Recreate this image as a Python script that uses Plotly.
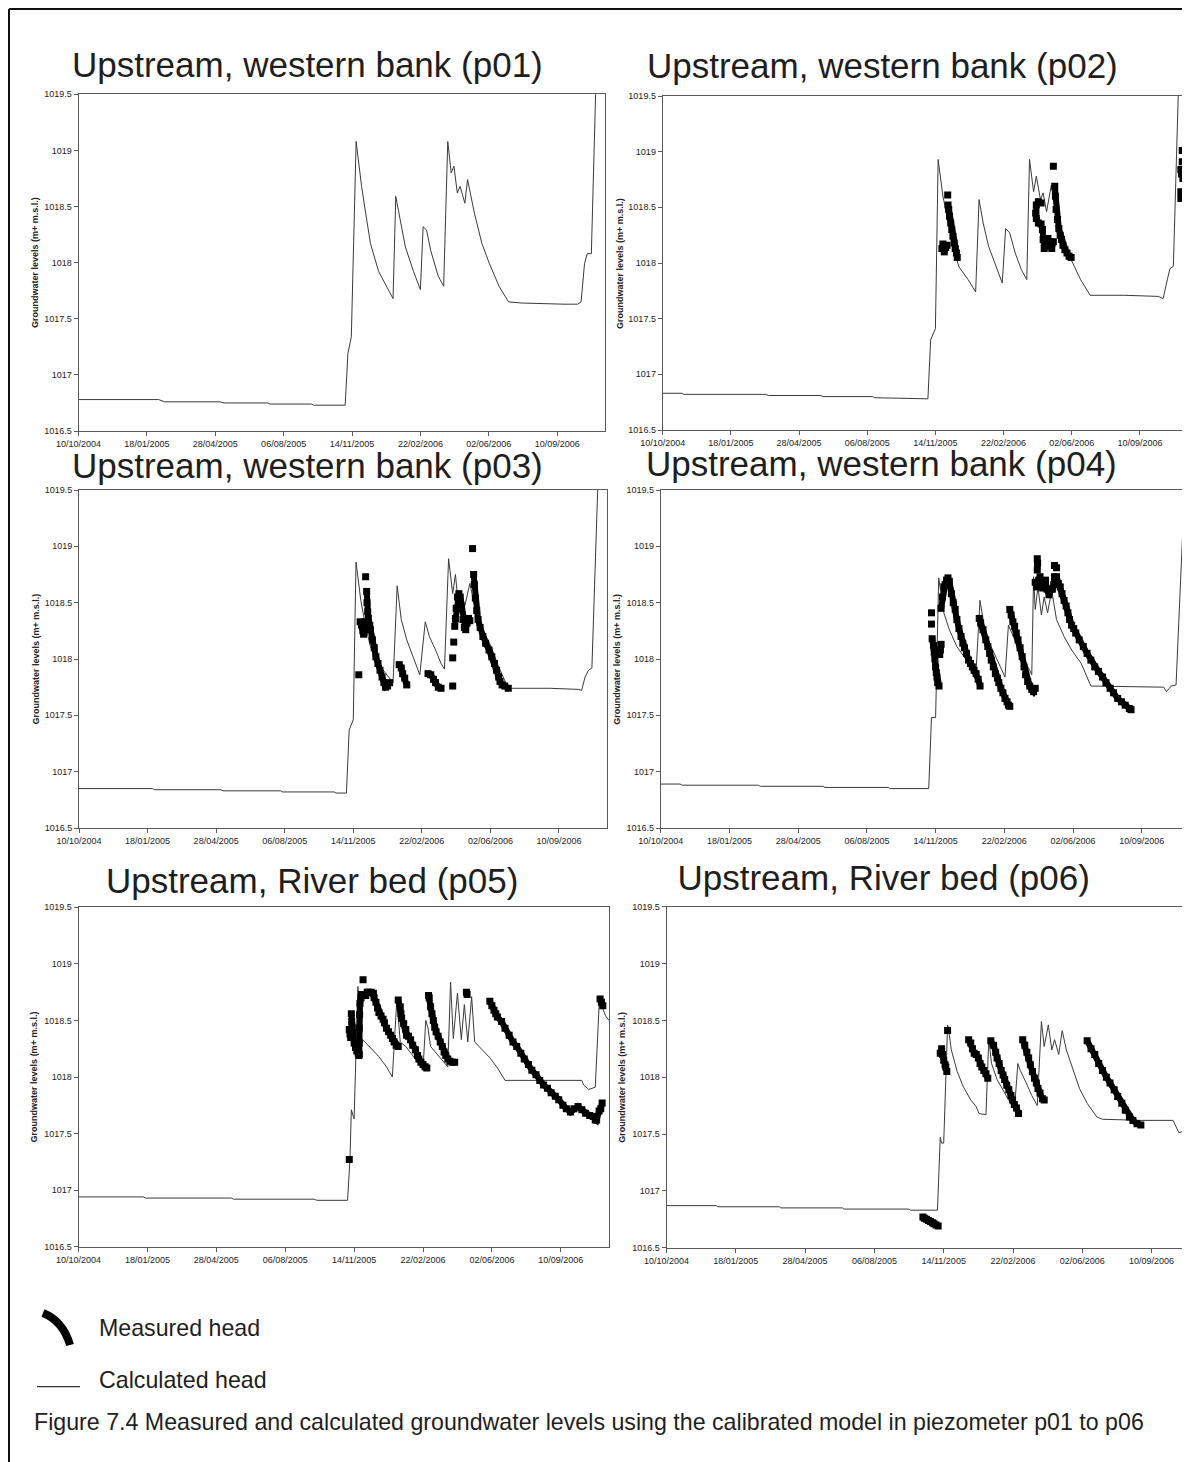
import datetime as dt
import plotly.graph_objects as go

W, H = 1190, 1462
OFF = 8  # the page places the figure 8 px from the top-left corner
BASE = dt.datetime(2004, 10, 10)
FONT = "Liberation Sans, Arial, sans-serif"

# ---------------- data ----------------
tick_dates = ["2004-10-10", "2005-01-18", "2005-04-28", "2005-08-06",
              "2005-11-14", "2006-02-22", "2006-06-02", "2006-09-10"]
tick_labels = ["10/10/2004", "18/01/2005", "28/04/2005", "06/08/2005",
               "14/11/2005", "22/02/2006", "02/06/2006", "10/09/2006"]
y_ticks = [1016.5, 1017, 1017.5, 1018, 1018.5, 1019, 1019.5]
y_tick_labels = ["1016.5", "1017", "1017.5", "1018", "1018.5", "1019", "1019.5"]

titles = ["Upstream, western bank (p01)", "Upstream, western bank (p02)",
          "Upstream, western bank (p03)", "Upstream, western bank (p04)",
          "Upstream, River bed (p05)", "Upstream, River bed (p06)"]
y_title = "Groundwater levels (m+ m.s.l.)"
legend_labels = ["Measured head", "Calculated head"]
caption = ("Figure 7.4 Measured and calculated groundwater levels using the "
           "calibrated model in piezometer p01 to p06")

# days are counted from 10/10/2004
p01_calc_day = [0, 117, 126, 207, 213, 277, 280, 341, 344, 390,
                394, 399, 406, 414, 420, 427, 439, 456, 460,
                464, 470, 478, 490, 500,
                504, 509, 515, 526, 534,
                540, 545, 549, 554, 558, 565, 569, 579, 590, 601, 615, 629, 649,
                710, 730, 735, 740, 744, 750, 758]
p01_calc_val = [1016.78, 1016.78, 1016.76, 1016.76, 1016.75, 1016.75, 1016.74, 1016.74, 1016.73, 1016.73,
                1017.19, 1017.34, 1019.08, 1018.68, 1018.44, 1018.17, 1017.92, 1017.73, 1017.68,
                1018.59, 1018.41, 1018.14, 1017.92, 1017.76,
                1018.32, 1018.29, 1018.11, 1017.88, 1017.79,
                1019.08, 1018.80, 1018.86, 1018.62, 1018.68, 1018.53, 1018.74, 1018.44, 1018.17, 1017.99, 1017.79, 1017.65, 1017.64,
                1017.63, 1017.63, 1017.65, 1017.99, 1018.08, 1018.08, 1019.9]

p02_calc_day = [0, 28, 31, 151, 155, 232, 235, 308, 311, 389,
                393, 400, 404, 411, 422, 434, 448, 459,
                464, 470, 478, 490, 498,
                503, 509, 517, 526, 534,
                538, 544, 548, 554, 558, 563, 570, 576, 587, 599, 613, 627,
                677, 727, 734, 739, 744, 749, 758]
p02_calc_val = [1016.83, 1016.83, 1016.82, 1016.82, 1016.81, 1016.81, 1016.80, 1016.80, 1016.79, 1016.78,
                1017.31, 1017.41, 1018.93, 1018.60, 1018.27, 1017.97, 1017.85, 1017.74,
                1018.57, 1018.36, 1018.15, 1017.94, 1017.82,
                1018.31, 1018.27, 1018.09, 1017.94, 1017.85,
                1018.93, 1018.64, 1018.78, 1018.57, 1018.63, 1018.46, 1018.70, 1018.45, 1018.27, 1018.03, 1017.85, 1017.71,
                1017.71, 1017.70, 1017.68, 1017.82, 1017.95, 1017.97, 1019.9]
p02_meas_day = [409.5, 411, 413, 415, 417, None,
                418, None,
                418.5, 419.5, 420.7, 422.4, 424, 425.7, 427.4, 429, 430.8, 432, None,
                555, 551, 548, 547, 548, 551, 555, None,
                557, 558, 559.6, 562, 565, 568, 570.6, 573, None,
                573, None,
                575, 576, 577, 579, 581, 583, 585, 587, 590, 593, 596, 599, None,
                762, None, 762, None,
                760, 761, 763, None,
                760, 760]
p02_meas_val = [1018.13, 1018.17, 1018.10, 1018.14, 1018.16, None,
                1018.61, None,
                1018.52, 1018.48, 1018.42, 1018.36, 1018.30, 1018.24, 1018.18, 1018.13, 1018.09, 1018.05, None,
                1018.54, 1018.55, 1018.52, 1018.45, 1018.40, 1018.36, 1018.35, None,
                1018.30, 1018.21, 1018.13, 1018.15, 1018.22, 1018.19, 1018.13, 1018.19, None,
                1018.87, None,
                1018.69, 1018.60, 1018.48, 1018.39, 1018.31, 1018.25, 1018.21, 1018.16, 1018.12, 1018.09, 1018.06, 1018.05, None,
                1019.01, None, 1018.91, None,
                1018.84, 1018.80, 1018.76, None,
                1018.64, 1018.58]

p03_calc_day = [0, 107, 110, 207, 210, 294, 297, 372, 375, 390,
                394, 400, 404, 411, 417, 425, 436, 447, 458,
                464, 470, 478, 489, 497,
                505, 511, 520, 528, 533,
                539, 545, 549, 553, 559, 563, 570, 578, 589, 601, 612, 626,
                687, 729, 733, 738, 743, 748, 758]
p03_calc_val = [1016.85, 1016.85, 1016.84, 1016.84, 1016.83, 1016.83, 1016.82, 1016.82, 1016.81, 1016.81,
                1017.37, 1017.46, 1018.86, 1018.52, 1018.32, 1018.11, 1017.96, 1017.87, 1017.79,
                1018.65, 1018.35, 1018.17, 1017.99, 1017.86,
                1018.33, 1018.20, 1018.08, 1017.96, 1017.91,
                1018.89, 1018.58, 1018.75, 1018.49, 1018.55, 1018.48, 1018.67, 1018.44, 1018.26, 1018.11, 1017.93, 1017.74,
                1017.74, 1017.73, 1017.72, 1017.84, 1017.90, 1017.92, 1019.8]
p03_meas_day = [408, None,
                410, 412, 414, 415, 416, 417, None,
                418, None,
                419.5, 420, 421, 422, 424, 425, 428, 430.6, 433, 436, 439, 442, 444.6, 447, 450, 453, None,
                467, 470, 472, 475, 478, None,
                509, 513, 517, 520, 524, 528, None,
                545, None, 545, None, 546.5, None,
                548, 549, 550, 552, 554, 556, 558, 560, 562, 564, 566, 568, 570, None,
                574, None,
                575.5, 576.5, 578, 580, 582, 585, 589, 593, 598, 602, 606, 609, 612, 614, 617, 621, 626]
p03_meas_val = [1017.86, None,
                1018.33, 1018.30, 1018.25, 1018.22, 1018.28, 1018.33, None,
                1018.73, None,
                1018.60, 1018.50, 1018.42, 1018.36, 1018.30, 1018.26, 1018.17, 1018.10, 1018.02, 1017.96, 1017.90, 1017.84, 1017.79, 1017.75, 1017.76, 1017.79, None,
                1017.95, 1017.92, 1017.87, 1017.83, 1017.77, None,
                1017.87, 1017.86, 1017.82, 1017.79, 1017.75, 1017.74, None,
                1017.76, None, 1018.01, None, 1018.15, None,
                1018.29, 1018.36, 1018.45, 1018.55, 1018.58, 1018.55, 1018.45, 1018.35, 1018.28, 1018.26, 1018.32, 1018.36, 1018.34, None,
                1018.98, None,
                1018.75, 1018.66, 1018.54, 1018.43, 1018.35, 1018.28, 1018.20, 1018.14, 1018.08, 1018.02, 1017.96, 1017.90, 1017.84, 1017.80, 1017.77, 1017.76, 1017.74]

p04_calc_day = [0, 28, 31, 142, 145, 236, 239, 331, 334, 390,
                394, 400, 404.5, 412, 420, 431, 445, 459,
                464.6, 470, 478.6, 489.7, 501,
                506, 515, 526, 537, 540,
                542.6, 545, 549, 554, 558, 563, 569, 576, 587, 598, 612, 626,
                732, 736, 743, 750, 760, 765, 770]
p04_calc_val = [1016.89, 1016.89, 1016.88, 1016.88, 1016.87, 1016.87, 1016.86, 1016.86, 1016.85, 1016.85,
                1017.48, 1017.48, 1018.72, 1018.41, 1018.26, 1018.11, 1017.99, 1017.90,
                1018.52, 1018.32, 1018.14, 1017.99, 1017.84,
                1018.30, 1018.17, 1018.02, 1017.90, 1017.86,
                1018.73, 1018.44, 1018.64, 1018.39, 1018.55, 1018.41, 1018.61, 1018.35, 1018.20, 1018.08, 1017.96, 1017.76,
                1017.75, 1017.71, 1017.76, 1017.77, 1019.17, 1019.06, 1019.02]
p04_meas_day = [394, None, 394, None,
                395, 397, 398, 399, 400, 401, 402, 403, 405, None,
                406, 407, 408, None,
                408, 410, 412, 414, 416, 418, 420, 423, 425.7, 428.5, 431, 434, 437, 439.6, 442, 445, 448, 450.8, 453.5, 456, 459, 462, 464.7, None,
                463.5, 465.5, 469, 473, 476, 478.6, 481, 484, 487, 490, 492, 495, 498, 501, 504, 506, 508, None,
                508, 510, 512.5, 515, 517.5, 520, 523, 526, 528.7, 531, 534, 537, 540, 542.6, 545, None,
                548, 548.5, 548, None,
                545, 547, 550, 552, 554, 556, 558, 560, 562, 565, 567.6, 570, 572, 573, None,
                573, 576, None,
                576, 578.7, 581.5, 584, 587, 590, 592.6, 595, 598, 601, 604, 609, 615, 620.5, 626, 631.6, 637, 643, 648, 654, 659, 665, 670.5, 676, 682, 684.5]
p04_meas_val = [1018.41, None, 1018.31, None,
                1018.18, 1018.12, 1018.06, 1018.00, 1017.93, 1017.88, 1017.84, 1017.79, 1017.76, None,
                1018.04, 1018.08, 1018.13, None,
                1018.45, 1018.55, 1018.64, 1018.66, 1018.70, 1018.72, 1018.69, 1018.58, 1018.50, 1018.44, 1018.35, 1018.27, 1018.20, 1018.14, 1018.10, 1018.05, 1017.99, 1017.96, 1017.93, 1017.90, 1017.87, 1017.82, 1017.76, None,
                1018.36, 1018.32, 1018.26, 1018.17, 1018.11, 1018.05, 1017.99, 1017.93, 1017.87, 1017.83, 1017.79, 1017.74, 1017.70, 1017.65, 1017.62, 1017.59, 1017.58, None,
                1018.44, 1018.39, 1018.33, 1018.29, 1018.23, 1018.17, 1018.10, 1018.02, 1017.93, 1017.86, 1017.80, 1017.76, 1017.73, 1017.71, 1017.74, None,
                1018.89, 1018.85, 1018.79, None,
                1018.68, 1018.64, 1018.70, 1018.73, 1018.66, 1018.63, 1018.68, 1018.70, 1018.62, 1018.57, 1018.62, 1018.62, 1018.66, 1018.73, None,
                1018.83, 1018.81, None,
                1018.73, 1018.67, 1018.64, 1018.58, 1018.52, 1018.47, 1018.41, 1018.35, 1018.30, 1018.27, 1018.23, 1018.17, 1018.11, 1018.05, 1017.99, 1017.93, 1017.89, 1017.84, 1017.79, 1017.74, 1017.70, 1017.65, 1017.62, 1017.59, 1017.56, 1017.55]

p05_calc_day = [0, 94, 97, 222, 225, 342, 346, 390.5,
                394, 396, 400, 405.5, 411, 422, 436, 447, 455.5,
                462, 467, 475, 486, 497, 500,
                504, 507, 511, 519, 528, 536,
                540, 544, 550, 555.6, 560, 565, 570.6, 575, 586, 597, 608, 619, 630.6,
                730.6, 733, 740.6, 750, 756, 765, 770]
p05_calc_val = [1016.94, 1016.94, 1016.93, 1016.93, 1016.92, 1016.92, 1016.91, 1016.91,
                1017.27, 1017.71, 1017.63, 1018.80, 1018.34, 1018.27, 1018.18, 1018.09, 1018.00,
                1018.68, 1018.31, 1018.27, 1018.18, 1018.09, 1018.07,
                1018.50, 1018.44, 1018.27, 1018.21, 1018.14, 1018.09,
                1018.84, 1018.34, 1018.74, 1018.33, 1018.64, 1018.31, 1018.71, 1018.31, 1018.24, 1018.17, 1018.08, 1017.97, 1017.97,
                1017.97, 1017.93, 1017.89, 1017.91, 1018.68, 1018.54, 1018.50]
p05_meas_day = [393, None,
                393, 394, 395, None,
                396, 396.5, 397, 398, 400, 402, 404, 406, 407, None,
                407.5, 407.5, 407.5, 408, 408.5, 410, 411, None,
                413, None,
                412, 414, 417, 419, 422, 425, 428, 429, 431.7, 434, 436, 439, 442, 444, 447, 450, 453, 455.6, 458, 461, 464, None,
                464, 467, 468, 469, 472, 475, 476, 479, 482, 485, 489, 492, 494, 497, 500, 503, 505.5, None,
                508, 509, 511, 513, 515, 517, 519, 522, 525, 528, 530.6, 533, 536, 539, 543, 546, None,
                563, 564, None,
                597, 600, 603, 605.6, 608, 614, 619, 625, 630.6, 636, 642, 647, 653, 658, 664, 669.4, 675, 680.6, 686, 692, 697, 703, 708, 714, 719, 725, 730.6, 736, 742, 747, 750, 752, 755.6, 758, 760, None,
                757, 759, 761]
p05_meas_val = [1017.27, None,
                1018.42, 1018.38, 1018.35, None,
                1018.56, 1018.49, 1018.44, 1018.36, 1018.30, 1018.26, 1018.23, 1018.21, 1018.19, None,
                1018.20, 1018.30, 1018.43, 1018.55, 1018.65, 1018.70, 1018.73, None,
                1018.86, None,
                1018.72, 1018.72, 1018.72, 1018.75, 1018.75, 1018.75, 1018.74, 1018.70, 1018.66, 1018.61, 1018.57, 1018.54, 1018.51, 1018.48, 1018.43, 1018.40, 1018.37, 1018.34, 1018.31, 1018.28, 1018.27, None,
                1018.68, 1018.62, 1018.56, 1018.52, 1018.47, 1018.42, 1018.37, 1018.36, 1018.33, 1018.28, 1018.24, 1018.19, 1018.16, 1018.13, 1018.11, 1018.09, 1018.08, None,
                1018.72, 1018.70, 1018.62, 1018.56, 1018.50, 1018.44, 1018.40, 1018.36, 1018.31, 1018.27, 1018.22, 1018.19, 1018.16, 1018.14, 1018.13, 1018.13, None,
                1018.75, 1018.73, None,
                1018.67, 1018.63, 1018.59, 1018.56, 1018.53, 1018.49, 1018.43, 1018.37, 1018.31, 1018.27, 1018.21, 1018.16, 1018.11, 1018.06, 1018.02, 1017.97, 1017.93, 1017.90, 1017.86, 1017.83, 1017.80, 1017.75, 1017.72, 1017.69, 1017.72, 1017.74, 1017.71, 1017.68, 1017.66, 1017.65, 1017.62, 1017.62, 1017.70, 1017.72, 1017.77, None,
                1018.69, 1018.66, 1018.63]

p06_calc_day = [0, 72, 74, 163, 165, 254, 256, 350, 352, 391,
                395, 397, 400, 405.6, 407, 411, 419.5, 428, 439, 447, 451, 461,
                465, 469, 477, 488, 497, 502,
                507, 510.5, 519, 527, 535,
                541, 545, 551, 556, 560, 566, 571, 577, 585, 596, 607, 621, 629,
                684, 731, 739.5, 750.6, 755, 760]
p06_calc_val = [1016.87, 1016.87, 1016.86, 1016.86, 1016.85, 1016.85, 1016.84, 1016.84, 1016.83, 1016.83,
                1017.47, 1017.42, 1017.42, 1018.46, 1018.42, 1018.24, 1018.05, 1017.92, 1017.80, 1017.74, 1017.68, 1017.67,
                1018.34, 1018.12, 1017.98, 1017.86, 1017.76, 1017.71,
                1018.12, 1018.06, 1017.95, 1017.84, 1017.75,
                1018.49, 1018.27, 1018.46, 1018.24, 1018.33, 1018.20, 1018.41, 1018.24, 1018.09, 1017.90, 1017.77, 1017.65, 1017.63,
                1017.62, 1017.62, 1017.51, 1017.54, 1018.09, 1019.0]
p06_meas_day = [370, 372, 375, 378, 381, 384, 386, 389, 392, None,
                395, 397, 398.5, 400, 402, 403, 404.5, None,
                405.6, None,
                436, 439, 441.5, 444, 447, 450, 452.5, 455, 458, 461, 463.6, None,
                468, 472, 475, 477, 480, 483, 485.7, 488, 491, 494, 497, 499.4, 502, 505, 508, None,
                514, 517, 520, 522.6, 525, 528, 531, 533.7, 536, 539, 542.5, 545, None,
                607, 612.6, 618, 623.6, 629, 634.7, 640, 646, 651, 657, 662, 668, 673, 679, 684.5]
p06_meas_val = [1016.77, 1016.76, 1016.75, 1016.74, 1016.73, 1016.72, 1016.71, 1016.70, 1016.69, None,
                1018.21, 1018.25, 1018.20, 1018.15, 1018.11, 1018.09, 1018.05, None,
                1018.41, None,
                1018.33, 1018.30, 1018.25, 1018.21, 1018.20, 1018.17, 1018.12, 1018.09, 1018.06, 1018.03, 1017.99, None,
                1018.32, 1018.28, 1018.22, 1018.17, 1018.12, 1018.06, 1018.02, 1017.98, 1017.93, 1017.89, 1017.84, 1017.80, 1017.76, 1017.73, 1017.68, None,
                1018.33, 1018.28, 1018.22, 1018.17, 1018.11, 1018.05, 1017.99, 1017.95, 1017.90, 1017.86, 1017.81, 1017.80, None,
                1018.32, 1018.25, 1018.20, 1018.12, 1018.06, 1018.00, 1017.95, 1017.89, 1017.83, 1017.77, 1017.71, 1017.65, 1017.62, 1017.59, 1017.58]

calc = [(p01_calc_day, p01_calc_val), (p02_calc_day, p02_calc_val), (p03_calc_day, p03_calc_val),
        (p04_calc_day, p04_calc_val), (p05_calc_day, p05_calc_val), (p06_calc_day, p06_calc_val)]
meas = [None, (p02_meas_day, p02_meas_val), (p03_meas_day, p03_meas_val),
        (p04_meas_day, p04_meas_val), (p05_meas_day, p05_meas_val), (p06_meas_day, p06_meas_val)]
for d, v in calc + [m for m in meas if m]:
    assert len(d) == len(v), (len(d), len(v))


def to_dates(days):
    return [None if d is None else (BASE + dt.timedelta(days=d)).strftime("%Y-%m-%d %H:%M:%S")
            for d in days]


# ---------------- layout geometry (page pixels) ----------------
# (left, right, top, bottom, pixels per 100 days)
geom = [(78.5, 605, 94.3, 431, 68.38),
        (662.7, 1187.7, 96, 430, 68.18),
        (79, 607, 490, 828, 68.57),
        (660.8, 1190, 490, 828, 68.70),
        (78.5, 609, 907.3, 1246.7, 68.90),
        (666.5, W + OFF, 906.7, 1247.7, 69.30)]
title_pos = [(307, 64), (882, 65.5), (307, 465), (881.7, 463.3), (312, 880.8), (883.7, 881.7)]
ylab_x = [34.4, 620, 35.6, 616.8, 34.4, 622.5]


def px(x):
    return (x - OFF) / W


def py(y):
    return 1 - (y - OFF) / H


fig = go.Figure()
layout = dict(width=W, height=H, autosize=False,
              margin=dict(l=0, r=0, t=0, b=0, pad=0, autoexpand=False),
              paper_bgcolor="white", plot_bgcolor="white", showlegend=False,
              font=dict(family=FONT, color="#222"), template="none")
annotations = []
AX = "#5a5a5a"

for i in range(6):
    n = "" if i == 0 else str(i + 1)
    xa, ya = "x" + n, "y" + n
    l, r, t, b, scale = geom[i]
    span = (r - l) / scale * 100
    layout["xaxis" + n] = dict(
        domain=[px(l), min(1.0, px(r))], anchor=ya, type="date", automargin=False,
        range=[BASE.strftime("%Y-%m-%d"), (BASE + dt.timedelta(days=span)).strftime("%Y-%m-%d %H:%M")],
        tickvals=tick_dates, ticktext=tick_labels, ticks="outside", ticklen=4,
        tickcolor=AX, tickwidth=1, linecolor=AX, linewidth=1, mirror=True,
        showgrid=False, zeroline=False, tickfont=dict(size=9, color="#222"), fixedrange=True)
    layout["yaxis" + n] = dict(
        domain=[py(b), py(t)], anchor=xa, range=[1016.5, 1019.5], automargin=False,
        tickvals=y_ticks, ticktext=y_tick_labels, ticks="outside", ticklen=4,
        tickcolor=AX, tickwidth=1, linecolor=AX, linewidth=1, mirror=True,
        showgrid=False, zeroline=False, tickfont=dict(size=9, color="#222"), fixedrange=True)

    cd, cv = calc[i]
    fig.add_trace(go.Scatter(x=to_dates(cd), y=cv, mode="lines", xaxis=xa, yaxis=ya,
                             line=dict(color="#3a3a3a", width=1), hoverinfo="skip"))
    if meas[i]:
        md, mv = meas[i]
        fig.add_trace(go.Scatter(x=to_dates(md), y=mv, mode="lines+markers", xaxis=xa, yaxis=ya,
                                 line=dict(color="black", width=6),
                                 marker=dict(symbol="square", size=7, color="black", line=dict(width=0)),
                                 connectgaps=False, hoverinfo="skip"))

    annotations.append(dict(text="<b>" + y_title + "</b>", x=px(ylab_x[i]), y=py((t + b) / 2),
                            xref="paper", yref="paper", textangle=-90, showarrow=False,
                            xanchor="center", yanchor="middle",
                            font=dict(size=9, color="#222", family=FONT)))
    if i < 5:
        tx, ty = title_pos[i]
        annotations.append(dict(text=titles[i], x=px(tx), y=py(ty), xref="paper", yref="paper",
                                showarrow=False, xanchor="center", yanchor="middle",
                                font=dict(size=35, color="#1e1e1e", family=FONT)))

# title of p06 is clipped at its bottom in the original: draw it inside a clipping subplot
tx, ty = title_pos[5]
layout["xaxis7"] = dict(domain=[0, 1], anchor="y7", range=[OFF, W + OFF], visible=False,
                        fixedrange=True, automargin=False)
layout["yaxis7"] = dict(domain=[py(896.7), py(840)], anchor="x7", range=[896.7, 840],
                        visible=False, fixedrange=True, automargin=False)
fig.add_trace(go.Scatter(x=[tx], y=[ty], mode="text", text=[titles[5]], xaxis="x7", yaxis="y7",
                         textposition="middle center", cliponaxis=True, hoverinfo="skip",
                         textfont=dict(size=35, color="#1e1e1e", family=FONT)))

# legend and caption
LEG = 23.2
annotations.append(dict(text=legend_labels[0], x=px(96.7), y=py(1328), xref="paper", yref="paper",
                        showarrow=False, xanchor="left", yanchor="middle",
                        font=dict(size=LEG, color="#1e1e1e", family=FONT)))
annotations.append(dict(text=legend_labels[1], x=px(96.7), y=py(1380), xref="paper", yref="paper",
                        showarrow=False, xanchor="left", yanchor="middle",
                        font=dict(size=LEG, color="#1e1e1e", family=FONT)))
annotations.append(dict(text=caption, x=px(31.7), y=py(1422), xref="paper", yref="paper",
                        showarrow=False, xanchor="left", yanchor="middle",
                        font=dict(size=LEG, color="#1e1e1e", family=FONT)))

shapes = [
    # outer frame (top and left edges visible)
    dict(type="line", xref="paper", yref="paper", x0=px(OFF + 1), x1=1, y0=py(OFF + 1), y1=py(OFF + 1),
         line=dict(color="#111", width=2)),
    dict(type="line", xref="paper", yref="paper", x0=px(OFF + 1), x1=px(OFF + 1), y0=py(OFF + 1), y1=0,
         line=dict(color="#111", width=2)),
    # legend glyphs
    dict(type="path", xref="paper", yref="paper",
         path="M %.5f %.5f Q %.5f %.5f %.5f %.5f" % (px(43), py(1313), px(63), py(1321), px(70), py(1345)),
         line=dict(color="black", width=8)),
    dict(type="line", xref="paper", yref="paper", x0=px(37), x1=px(80), y0=py(1386.7), y1=py(1386.7),
         line=dict(color="black", width=1)),
]
layout["annotations"] = annotations
layout["shapes"] = shapes
fig.update_layout(**layout)
fig.write_html("out.html")
